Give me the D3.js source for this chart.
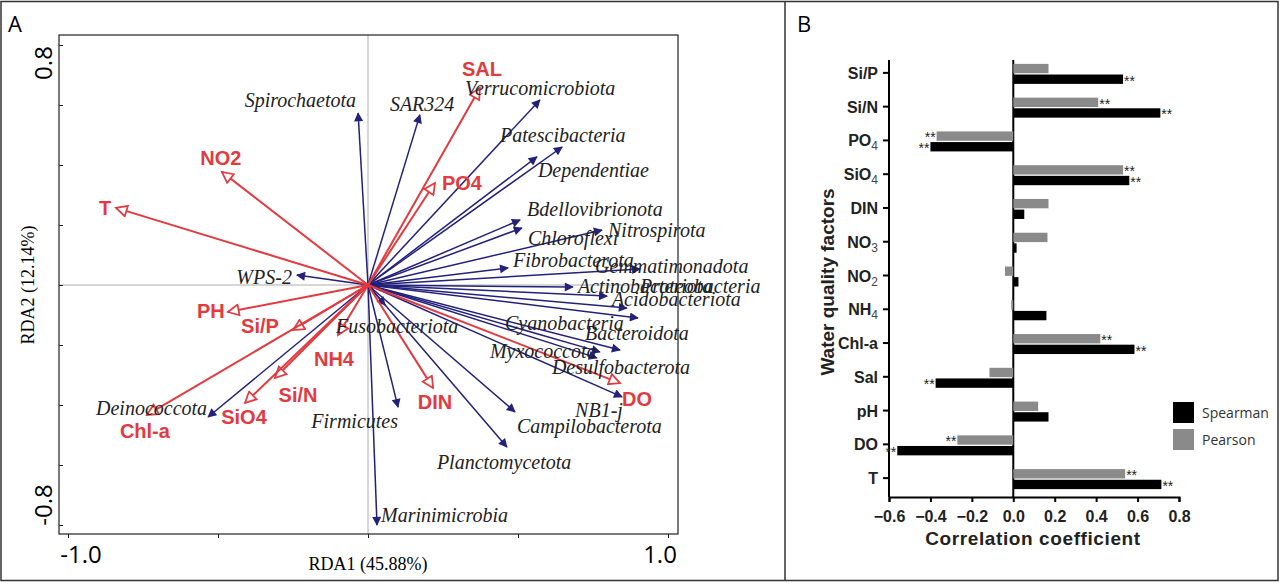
<!DOCTYPE html>
<html><head><meta charset="utf-8">
<script src="https://cdn.jsdelivr.net/npm/d3@7"></script>
<style>body{margin:0;background:#fff}svg{display:block}</style>
</head><body>
<svg id="sg" width="1280" height="584"></svg>
<script>
// Panel A: environment vectors (RDA1, RDA2)
const envNames = ["SAL", "PO4", "NO2", "T", "PH", "Si/P", "NH4", "Si/N", "SiO4", "Chl-a", "DIN", "DO"];
const envX = [0.373, 0.223, -0.487, -0.84, -0.467, -0.25, -0.1, -0.31, -0.41, -0.737, 0.217, 0.84];
const envY = [0.657, 0.34, 0.377, 0.257, -0.09, -0.15, -0.167, -0.31, -0.393, -0.433, -0.343, -0.327];
// species vectors
const spNames = ["Spirochaetota", "SAR324", "Verrucomicrobiota", "Patescibacteria", "Dependentiae",
  "Bdellovibrionota", "Chloroflexi", "Nitrospirota", "Fibrobacterota", "Gemmatimonadota",
  "Actinobacteriota", "Proteobacteria", "Acidobacteriota", "Bacteroidota", "Cyanobacteria",
  "Myxococcota", "Desulfobacterota", "NB1-j", "Campilobacterota", "Planctomycetota",
  "Firmicutes", "Fusobacteriota", "Marinimicrobia", "Deinococcota", "WPS-2"];
const spX = [-0.033, 0.173, 0.573, 0.647, 0.563, 0.507, 0.513, 0.78, 0.467, 0.907,
  0.683, 0.797, 0.863, 0.9, 0.84, 0.763, 0.773, 0.847, 0.49, 0.463, 0.1, 0.057, 0.03, -0.533, -0.237];
const spY = [0.573, 0.567, 0.617, 0.46, 0.427, 0.217, 0.19, 0.183, 0.057, 0.053,
  -0.007, -0.037, -0.077, -0.11, -0.217, -0.243, -0.223, -0.373, -0.423, -0.54, -0.407, -0.067, -0.8, -0.44, 0.033];

// Panel B
const factors = ["Si/P", "Si/N", "PO4", "SiO4", "DIN", "NO3", "NO2", "NH4", "Chl-a", "Sal", "pH", "DO", "T"];
const pearson = [0.17, 0.41, -0.37, 0.53, 0.17, 0.165, -0.04, -0.01, 0.42, -0.115, 0.12, -0.27, 0.54];
const spearman = [0.53, 0.71, -0.40, 0.56, 0.053, 0.016, 0.025, 0.16, 0.585, -0.375, 0.17, -0.56, 0.715];
const pearsonSig = [false, true, true, true, false, false, false, false, true, false, false, true, true];
const spearmanSig = [true, true, true, true, false, false, false, false, true, true, false, true, true];
const xTicksB = [-0.6, -0.4, -0.2, 0.0, 0.2, 0.4, 0.6, 0.8];

// label placement (pixel offsets from arrow tip): [dx, dy, anchor]
const envLab = {"SAL":[2,-12,"middle"],"PO4":[7,7,"start"],"NO2":[-1,-7,"middle"],"T":[-11,7,"middle"],
  "PH":[-17,6,"middle"],"Si/P":[-33,3,"middle"],"NH4":[-4,31,"middle"],"Si/N":[23,24,"middle"],
  "SiO4":[-1,21,"middle"],"Chl-a":[-2,23,"middle"],"DIN":[2,21,"middle"],"DO":[17,23,"middle"]};
const spLab = {"Spirochaetota":[-2,-6,"end"],"SAR324":[-30,-4,"start"],"Verrucomicrobiota":[-75,-5,"start"],
  "Patescibacteria":[-62,-5,"start"],"Dependentiae":[1,20,"start"],"Bdellovibrionota":[7,-4,"start"],
  "Chloroflexi":[6,17,"start"],"Nitrospirota":[6,7,"start"],"Fibrobacterota":[5,-1,"start"],
  "Gemmatimonadota":[-45,4,"start"],"Actinobacteriota":[5,6,"start"],"Proteobacteria":[33,-3,"start"],
  "Acidobacteriota":[-15,-2,"start"],"Bacteroidota":[-53,22,"start"],"Cyanobacteria":[-115,-20,"start"],
  "Myxococcota":[-107,0,"start"],"Desulfobacterota":[-48,22,"start"],"NB1-j":[-47,20,"start"],
  "Campilobacterota":[2,21,"start"],"Planctomycetota":[-70,22,"start"],"Firmicutes":[0,21,"end"],
  "Fusobacteriota":[-49,28,"start"],"Marinimicrobia":[4,-3,"start"],"Deinococcota":[-1,-2,"end"],
  "WPS-2":[-5,9,"end"]};

const svg = d3.select("#sg");
const RED = "#e23a3f", NAVY = "#23217a";

// frames
svg.append("rect").attr("x", 1).attr("y", 1.5).attr("width", 1277).attr("height", 579)
  .attr("fill", "none").attr("stroke", "#333").attr("stroke-width", 1.5);
svg.append("line").attr("x1", 785).attr("x2", 785).attr("y1", 1.5).attr("y2", 580.5)
  .attr("stroke", "#333").attr("stroke-width", 1.5);
svg.append("text").attr("x", 8).attr("y", 32).attr("font-family", "Open Sans, sans-serif")
  .attr("font-size", 22).text("A");
svg.append("text").attr("x", 797).attr("y", 32).attr("font-family", "Open Sans, sans-serif")
  .attr("font-size", 22).text("B");

// ---------- Panel A ----------
const x = d3.scaleLinear().domain([-1, 1]).range([68, 668]);
const y = d3.scaleLinear().domain([-0.8, 0.8]).range([525, 45]);
const L = 59, R = 678, T = 35, B = 534;

const defs = svg.append("defs");
defs.append("marker").attr("id", "blue").attr("viewBox", "0 0 10 10").attr("refX", 9).attr("refY", 5)
  .attr("markerWidth", 13).attr("markerHeight", 9).attr("markerUnits", "userSpaceOnUse").attr("orient", "auto")
  .append("path").attr("d", "M0,0L10,5L0,10Z").attr("fill", NAVY);
defs.append("marker").attr("id", "red").attr("viewBox", "0 0 12 12").attr("refX", 11).attr("refY", 6)
  .attr("markerWidth", 16).attr("markerHeight", 13).attr("markerUnits", "userSpaceOnUse").attr("orient", "auto")
  .append("path").attr("d", "M1,1L11,6L1,11Z").attr("fill", "#fff").attr("stroke", RED).attr("stroke-width", 1.6);

const gA = svg.append("g");
gA.append("line").attr("x1", x(0)).attr("x2", x(0)).attr("y1", T).attr("y2", B).attr("stroke", "#999").attr("stroke-width", 0.8);
gA.append("line").attr("x1", L).attr("x2", R).attr("y1", y(0)).attr("y2", y(0)).attr("stroke", "#999").attr("stroke-width", 0.8);
gA.append("rect").attr("x", L).attr("y", T).attr("width", R - L).attr("height", B - T)
  .attr("fill", "none").attr("stroke", "#222").attr("stroke-width", 1.2);

gA.append("g").attr("transform", `translate(0,${B})`)
  .call(d3.axisBottom(x).tickValues([-1, -0.5, 0, 0.5, 1]).tickSize(4).tickFormat(""))
  .call(g => g.select(".domain").remove());
gA.append("g").attr("transform", `translate(${L},0)`)
  .call(d3.axisLeft(y).tickValues(d3.range(-0.8, 0.81, 0.2)).tickSize(-4).tickFormat(""))
  .call(g => g.select(".domain").remove());
gA.selectAll(".tick line").attr("stroke", "#222");

const bigF = "Open Sans, sans-serif";
[[-1, "-1.0"], [1, "1.0"]].forEach(([v, t]) =>
  gA.append("text").attr("x", x(v) + (v < 0 ? 13 : -8)).attr("y", 563).attr("text-anchor", "middle")
    .attr("font-family", bigF).attr("font-size", 24).text(t));
[[0.8, "0.8"], [-0.8, "-0.8"]].forEach(([v, t]) =>
  gA.append("text").attr("transform", `translate(52,${y(v) + (v > 0 ? 18 : -20)}) rotate(-90)`)
    .attr("text-anchor", "middle").attr("font-family", bigF).attr("font-size", 24).text(t));
gA.append("text").attr("x", 368).attr("y", 570).attr("text-anchor", "middle")
  .attr("font-family", "Liberation Serif, serif").attr("font-size", 18).text("RDA1 (45.88%)");
gA.append("text").attr("transform", "translate(34,285) rotate(-90)").attr("text-anchor", "middle")
  .attr("font-family", "Liberation Serif, serif").attr("font-size", 18).text("RDA2 (12.14%)");

spNames.forEach((n, i) => {
  gA.append("line").attr("x1", x(0)).attr("y1", y(0)).attr("x2", x(spX[i])).attr("y2", y(spY[i]))
    .attr("stroke", NAVY).attr("stroke-width", 1.5).attr("marker-end", "url(#blue)");
});
envNames.forEach((n, i) => {
  gA.append("line").attr("x1", x(0)).attr("y1", y(0)).attr("x2", x(envX[i])).attr("y2", y(envY[i]))
    .attr("stroke", RED).attr("stroke-width", 2).attr("marker-end", "url(#red)");
});
spNames.forEach((n, i) => {
  const o = spLab[n];
  gA.append("text").attr("x", x(spX[i]) + o[0]).attr("y", y(spY[i]) + o[1]).attr("text-anchor", o[2])
    .attr("font-family", "Liberation Serif, serif").attr("font-style", "italic").attr("font-size", 20)
    .attr("fill", "#222").text(n);
});
envNames.forEach((n, i) => {
  const o = envLab[n];
  gA.append("text").attr("x", x(envX[i]) + o[0]).attr("y", y(envY[i]) + o[1]).attr("text-anchor", o[2])
    .attr("font-family", "Liberation Sans, Arial, sans-serif").attr("font-weight", "bold").attr("font-size", 20)
    .attr("fill", RED).text(n);
});

// ---------- Panel B ----------
const xb = d3.scaleLinear().domain([-0.6, 0.8]).range([889, 1179]);
const yb = d3.scaleBand().domain(factors).range([56, 495]);
const sub = d3.scaleBand().domain(["P", "S"]).range([-9, 11]).paddingInner(0.12);
const gB = svg.append("g").attr("font-family", "Liberation Sans, Arial, sans-serif");
const yc = f => yb(f) + yb.bandwidth() / 2;

gB.append("g").attr("transform", "translate(0,497)")
  .call(d3.axisBottom(xb).tickValues(xTicksB).tickSize(5).tickFormat(d3.format(".1f")))
  .call(g => g.select(".domain").attr("stroke-width", 2))
  .call(g => g.selectAll(".tick line").attr("stroke-width", 2))
  .call(g => g.selectAll(".tick text").attr("font-size", 16).attr("font-weight", "bold").attr("dy", "1.05em")
    .attr("font-family", "Liberation Sans, Arial, sans-serif").attr("fill", "#222"));
gB.append("line").attr("x1", 889).attr("x2", 889).attr("y1", 60).attr("y2", 497).attr("stroke", "#000").attr("stroke-width", 2);
gB.append("line").attr("x1", xb(0)).attr("x2", xb(0)).attr("y1", 60).attr("y2", 497).attr("stroke", "#000").attr("stroke-width", 2);

factors.forEach((f, i) => {
  gB.append("line").attr("x1", 883).attr("x2", 889).attr("y1", yc(f)).attr("y2", yc(f)).attr("stroke", "#000").attr("stroke-width", 2);
  const m = f.match(/^([A-Za-z]+)(\d)$/);
  const t = gB.append("text").attr("x", 878).attr("y", yc(f) + 6).attr("text-anchor", "end")
    .attr("font-size", 16).attr("font-weight", "bold").attr("fill", "#222");
  if (m) {
    t.append("tspan").text(m[1]);
    t.append("tspan").attr("font-size", 12).attr("font-weight", "normal").attr("fill", "#444").attr("dy", 4).text(m[2]);
  } else t.text(f);
});

const bars = [["P", pearson, pearsonSig, "#8a8a8a"], ["S", spearman, spearmanSig, "#000"]];
bars.forEach(([k, vals, sig, col]) => {
  factors.forEach((f, i) => {
    const v = vals[i], y0 = yc(f) + sub(k);
    gB.append("rect").attr("x", Math.min(xb(0), xb(v))).attr("y", y0)
      .attr("width", Math.abs(xb(v) - xb(0))).attr("height", sub.bandwidth()).attr("fill", col);
    if (sig[i]) gB.append("text").attr("x", v >= 0 ? xb(v) + 1 : xb(v) - 1).attr("y", y0 + 11)
      .attr("text-anchor", v >= 0 ? "start" : "end").attr("font-size", 14).attr("fill", "#222").text("**");
  });
});

gB.append("text").attr("x", 1033).attr("y", 545).attr("text-anchor", "middle").attr("font-size", 19)
  .attr("font-weight", "bold").attr("letter-spacing", 0.6).attr("fill", "#222").text("Correlation coefficient");
gB.append("text").attr("transform", "translate(834,282) rotate(-90)").attr("text-anchor", "middle")
  .attr("font-size", 19).attr("font-weight", "bold").attr("fill", "#222").text("Water quality factors");

[["Spearman", "#000", 402], ["Pearson", "#8a8a8a", 429]].forEach(([t, c, yy]) => {
  gB.append("rect").attr("x", 1173).attr("y", yy).attr("width", 21).attr("height", 21).attr("fill", c);
  gB.append("text").attr("x", 1202).attr("y", yy + 16).attr("font-size", 14).attr("fill", "#333")
    .attr("font-family", "Open Sans, sans-serif").text(t);
});
</script>
</body></html>
